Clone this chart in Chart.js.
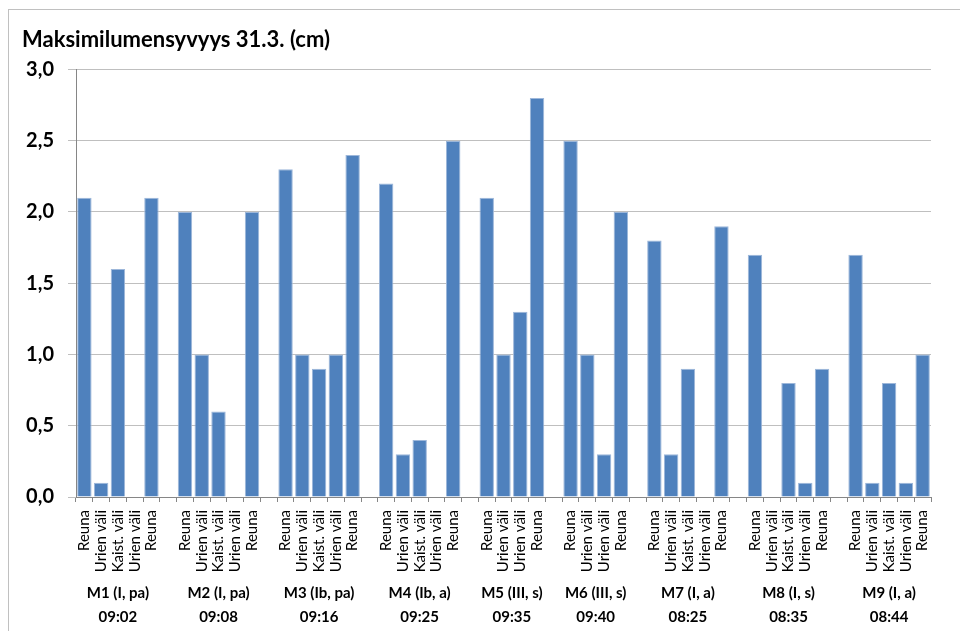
<!DOCTYPE html>
<html>
<head>
<meta charset="utf-8">
<script src="https://cdn.jsdelivr.net/npm/chart.js@4.4.1/dist/chart.umd.min.js"></script>
<style>
  html, body { margin: 0; padding: 0; background: #ffffff; }
  #wrap { width: 960px; height: 631px; position: relative; }
</style>
</head>
<body>
<div id="wrap"><canvas id="c" width="960" height="631"></canvas></div>
<script>
// Measurement sites (group name, time of measurement)
const siteNames = ['M1 (I, pa)', 'M2 (I, pa)', 'M3 (Ib, pa)', 'M4 (Ib, a)', 'M5 (III, s)', 'M6 (III, s)', 'M7 (I, a)', 'M8 (I, s)', 'M9 (I, a)'];
const siteTimes = ['09:02', '09:08', '09:16', '09:25', '09:35', '09:40', '08:25', '08:35', '08:44'];

// Measuring points within each site
const pointsM1 = ['Reuna', 'Urien väli', 'Kaist. väli', 'Urien väli', 'Reuna'];
const pointsM2 = ['Reuna', 'Urien väli', 'Kaist. väli', 'Urien väli', 'Reuna'];
const pointsM3 = ['Reuna', 'Urien väli', 'Kaist. väli', 'Urien väli', 'Reuna'];
const pointsM4 = ['Reuna', 'Urien väli', 'Kaist. väli', 'Urien väli', 'Reuna'];
const pointsM5 = ['Reuna', 'Urien väli', 'Urien väli', 'Reuna'];
const pointsM6 = ['Reuna', 'Urien väli', 'Urien väli', 'Reuna'];
const pointsM7 = ['Reuna', 'Urien väli', 'Kaist. väli', 'Urien väli', 'Reuna'];
const pointsM8 = ['Reuna', 'Urien väli', 'Kaist. väli', 'Urien väli', 'Reuna'];
const pointsM9 = ['Reuna', 'Urien väli', 'Kaist. väli', 'Urien väli', 'Reuna'];

// Maximum lumen depth (cm), null = no snow measured
const depthM1 = [2.1, 0.1, 1.6, null, 2.1];
const depthM2 = [2.0, 1.0, 0.6, null, 2.0];
const depthM3 = [2.3, 1.0, 0.9, 1.0, 2.4];
const depthM4 = [2.2, 0.3, 0.4, null, 2.5];
const depthM5 = [2.1, 1.0, 1.3, 2.8];
const depthM6 = [2.5, 1.0, 0.3, 2.0];
const depthM7 = [1.8, 0.3, 0.9, null, 1.9];
const depthM8 = [1.7, null, 0.8, 0.1, 0.9];
const depthM9 = [1.7, 0.1, 0.8, 0.1, 1.0];

// Y axis ticks
const yMin = 0;
const yMax = 3;
const yStep = 0.5;

const pointLists = [pointsM1, pointsM2, pointsM3, pointsM4, pointsM5, pointsM6, pointsM7, pointsM8, pointsM9];
const depthLists = [depthM1, depthM2, depthM3, depthM4, depthM5, depthM6, depthM7, depthM8, depthM9];

// Flatten into one category axis, with an empty slot between sites
const labels = [];
const values = [];
const groups = [];
pointLists.forEach((pts, g) => {
  if (g > 0) { labels.push(''); values.push(null); }
  const first = labels.length;
  pts.forEach((p, i) => { labels.push(p); values.push(depthLists[g][i]); });
  groups.push({ name: siteNames[g], time: siteTimes[g], first: first, last: labels.length - 1 });
});

const FONT = 'Lato, "Liberation Sans", sans-serif';

const frame = {
  id: 'frame',
  beforeDraw(chart) {
    const ctx = chart.ctx;
    ctx.save();
    ctx.fillStyle = '#ffffff';
    ctx.fillRect(0, 0, chart.width, chart.height);
    ctx.strokeStyle = '#c0c0c0';
    ctx.lineWidth = 1;
    ctx.strokeRect(8.5, 9.5, chart.width + 20, chart.height + 20);
    ctx.restore();
  }
};

const groupLabels = {
  id: 'groupLabels',
  afterDraw(chart) {
    const ctx = chart.ctx;
    const x = chart.scales.x;
    const base = chart.chartArea.bottom;
    ctx.save();
    ctx.fillStyle = '#000000';
    ctx.font = 'bold 15px ' + FONT;
    ctx.textAlign = 'center';
    ctx.textBaseline = 'middle';
    groups.forEach(gr => {
      const cx = (x.getPixelForValue(gr.first) + x.getPixelForValue(gr.last)) / 2;
      ctx.fillText(gr.name, cx, base + 96);
      ctx.fillText(gr.time, cx, base + 120);
    });
    ctx.restore();
  }
};

new Chart(document.getElementById('c'), {
  type: 'bar',
  data: {
    labels: labels,
    datasets: [{
      data: values,
      backgroundColor: '#4F81BD',
      borderColor: '#9db7da',
      borderWidth: 1,
      barPercentage: 0.86,
      categoryPercentage: 1.0
    }]
  },
  options: {
    responsive: false,
    animation: false,
    layout: { padding: { left: 22, right: 29, top: 10, bottom: 0 } },
    plugins: {
      legend: { display: false },
      tooltip: { enabled: false },
      title: {
        display: true,
        text: 'Maksimilumensyvyys 31.3. (cm)',
        align: 'start',
        color: '#000000',
        font: { family: FONT, size: 22, weight: 'bold', lineHeight: 1.2 },
        padding: { top: 17, bottom: 16 }
      }
    },
    scales: {
      x: {
        offset: true,
        grid: { offset: true, drawOnChartArea: false, drawTicks: true, tickLength: 5, color: '#868686' },
        border: { color: '#868686' },
        ticks: {
          autoSkip: false,
          maxRotation: 90,
          minRotation: 90,
          padding: 8,
          color: '#000000',
          font: { family: FONT, size: 15 }
        },
        afterFit(scale) { scale.height = 134; }
      },
      y: {
        min: yMin,
        max: yMax,
        grid: { color: '#bfbfbf', tickLength: 8 },
        border: { color: '#868686' },
        ticks: {
          stepSize: yStep,
          padding: 14,
          color: '#000000',
          font: { family: FONT, size: 20, weight: 'bold' },
          callback: v => v.toFixed(1).replace('.', ',')
        },
        afterFit(scale) { scale.width = 54; }
      }
    }
  },
  plugins: [frame, groupLabels]
});
</script>
</body>
</html>
